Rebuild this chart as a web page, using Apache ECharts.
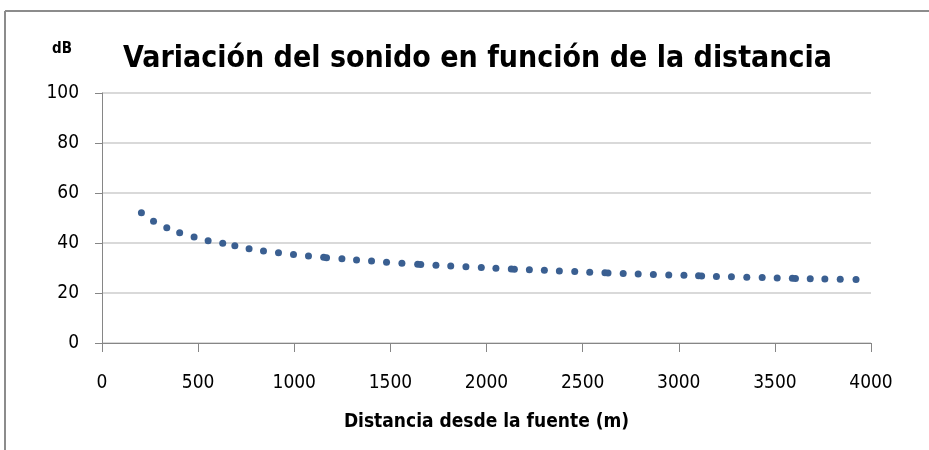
<!DOCTYPE html>
<html>
<head>
<meta charset="utf-8">
<script src="https://cdn.jsdelivr.net/npm/echarts@6/dist/echarts.min.js"></script>
<style>
  html, body { margin: 0; padding: 0; background: #fff; }
  #chart { width: 929px; height: 450px; }
</style>
</head>
<body>
<div id="chart"></div>
<script>
// distance from source (m) and sound level (dB)
const distances = [
  205, 268, 337, 404, 479, 552, 628, 691, 765, 840, 918, 996, 1074, 1153, 1168, 1248, 1324, 1402,
  1480, 1560, 1642, 1658, 1737, 1814, 1893, 1973, 2049, 2129, 2145, 2223, 2301, 2379, 2459, 2537,
  2616, 2632, 2711, 2789, 2868, 2948, 3027, 3103, 3119, 3196, 3274, 3354, 3434, 3512, 3591, 3607,
  3684, 3760, 3840, 3922
]
const levels = [
  52.1, 48.7, 46.1, 44.1, 42.4, 40.9, 39.9, 38.9, 37.7, 36.8, 36.1, 35.4, 34.8, 34.3, 34.1, 33.7, 33.2, 32.8,
  32.3, 31.9, 31.5, 31.4, 31.1, 30.8, 30.5, 30.2, 29.9, 29.6, 29.5, 29.3, 29.1, 28.8, 28.6, 28.3,
  28.1, 28.0, 27.8, 27.6, 27.4, 27.2, 27.1, 26.9, 26.8, 26.6, 26.5, 26.3, 26.2, 26.0, 25.9, 25.8,
  25.7, 25.6, 25.5, 25.4
]
const xTicks = [0, 500, 1000, 1500, 2000, 2500, 3000, 3500, 4000]
const yTicks = [0, 20, 40, 60, 80, 100]

const FONT = '"DejaVu Sans Condensed", "DejaVu Sans", sans-serif'

const chart = echarts.init(document.getElementById('chart'))
chart.setOption({
  backgroundColor: '#fff',
  animation: false,
  title: {
    text: 'Variación del sonido en función de la distancia',
    left: 118,
    top: 39,
    textStyle: { fontFamily: FONT, fontWeight: 'bold', fontSize: 30, color: '#000' },
  },
  graphic: [
    { type: 'line', shape: { x1: 5, y1: 11, x2: 929, y2: 11 }, style: { stroke: '#8c8c8c', lineWidth: 2 } },
    { type: 'line', shape: { x1: 5, y1: 11, x2: 5, y2: 450 }, style: { stroke: '#8c8c8c', lineWidth: 2 } },
    {
      type: 'text', left: 52, top: 42,
      style: { text: 'dB', font: 'bold 15px ' + FONT, fill: '#000' },
    },
  ],
  grid: { left: 102, right: 58, top: 93, bottom: 107, containLabel: false },
  xAxis: {
    type: 'value',
    min: xTicks[0],
    max: xTicks[xTicks.length - 1],
    interval: 500,
    name: 'Distancia desde la fuente (m)',
    nameLocation: 'middle',
    nameGap: 70,
    nameTextStyle: { fontFamily: FONT, fontWeight: 'bold', fontSize: 19, color: '#000' },
    axisLine: { lineStyle: { color: '#868686', width: 1 } },
    axisTick: { show: true, length: 9, lineStyle: { color: '#868686' } },
    axisLabel: { fontFamily: FONT, fontSize: 19, color: '#000', margin: 31, formatter: v => String(v) },
    splitLine: { show: false },
  },
  yAxis: {
    type: 'value',
    min: yTicks[0],
    max: yTicks[yTicks.length - 1],
    interval: 20,
    axisLine: { show: true, lineStyle: { color: '#868686', width: 1 } },
    axisTick: { show: true, length: 7, inside: false, lineStyle: { color: '#868686' } },
    axisLabel: { fontFamily: FONT, fontSize: 19, color: '#000', margin: 23, formatter: v => String(v) },
    splitLine: { show: true, lineStyle: { color: '#d9d9d9', width: 2 } },
  },
  series: [
    {
      type: 'scatter',
      data: distances.map((d, i) => [d, levels[i]]),
      symbol: 'circle',
      symbolSize: 7,
      itemStyle: { color: '#3a5f91', opacity: 1 },
    },
  ],
})
</script>
</body>
</html>
